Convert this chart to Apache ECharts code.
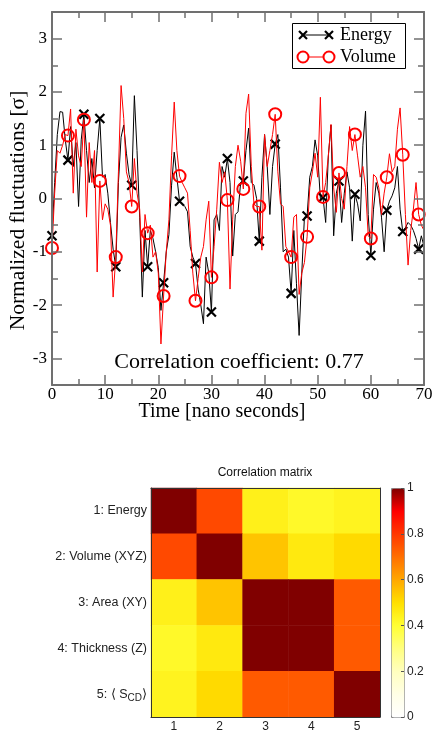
<!DOCTYPE html>
<html>
<head>
<meta charset="utf-8">
<script src="https://cdn.jsdelivr.net/npm/echarts@6/dist/echarts.min.js"></script>
<style>
html, body { margin: 0; padding: 0; background: #fff; }
#chart { width: 435px; height: 731px; }
</style>
</head>
<body>
<div id="chart"></div>
<script>
// sampling step of the time series (nano seconds)
var langkahWaktu = 0.5;

var energi = [
    -0.70, 0.30, 1.20, 1.63, 1.62, 1.10, 0.72, 1.35, 0.60, 1.05,
    -0.15, 1.10, 1.58, 0.90, 0.30, 0.75, 0.20, 0.90, 1.50, 0.40,
    0.45, 0.10, -0.45, -0.95, -1.28, 0.30, 1.15, 1.38, 0.85, 0.45,
    0.25, 1.93, 0.90, -0.35, -1.85, -0.60, -1.28, -0.60, -0.75, -1.00,
    -1.30, -2.10, -1.58, -1.00, -0.68, 0.25, 0.87, 0.40, -0.05, -0.10,
    -0.15, -0.25, -0.90, -1.10, -1.22, -1.70, -2.00, -2.35, -1.10, -1.40,
    -2.13, -0.40, -0.30, -0.60, 0.60, 0.40, 0.75, 0.30, -1.08, -0.30,
    -0.25, 0.30, 0.33, 0.90, 1.32, 0.30, 0.25, 0.00, -0.80, 0.40,
    1.20, 0.60, -0.30, 0.60, 1.02, 1.20, 0.20, -1.00, -0.95, -1.10,
    -1.78, -0.60, -1.60, -2.57, -1.40, -0.35, -0.33, 0.40, 0.60, 1.10,
    0.80, 0.00, 0.02, -0.45, 0.80, 1.38, -0.70, 0.10, 0.33, -0.45,
    0.10, 0.50, 0.20, -0.80, 0.08, -0.10, -0.42, 1.00, 1.64, -0.30,
    -1.07, -0.20, 0.30, 0.10, -0.35, -1.00, -0.22, -0.05, 0.05, 0.20,
    0.60, -0.20, -0.62, -0.55, -0.45, -0.50, -0.60, -0.75, -0.95, -0.70,
    -0.90
];

var volume = [
    -0.93, 0.10, 0.90, 0.85, 1.00, 1.20, 1.18, 1.68, 0.10, 1.30,
    0.80, 0.60, 1.48, -0.35, 1.05, 0.30, 0.90, -1.38, 0.33, -0.40,
    -0.10, -0.20, -0.50, -1.85, -1.10, 0.50, 2.12, 1.50, 0.50, 0.30,
    -0.15, 0.75, 0.10, -0.20, -1.38, -0.30, -0.65, -0.50, -1.10, -1.00,
    -1.40, -2.73, -1.83, -1.00, -0.40, 0.80, 1.81, 0.90, 0.42, 0.30,
    0.20, 0.10, -0.60, -1.40, -1.92, -1.50, -1.10, -0.90, -0.40, -0.05,
    -1.48, -0.90, -0.20, 0.68, 0.30, 0.50, -0.03, -1.70, -0.40, 0.60,
    1.00, 0.70, 0.18, 1.60, 1.96, 0.60, -0.10, -0.15, -0.15, -0.97,
    1.20, 0.60, 0.90, 1.20, 1.58, 0.50, -0.10, -0.15, -0.90, -1.00,
    -1.10, -0.35, -0.30, -1.80, -1.40, -1.20, -0.72, 0.20, 0.50, 0.85,
    0.40, 1.90, 0.03, 0.30, 0.80, 1.39, 0.20, -0.26, 0.48, 0.00,
    -0.20, 0.60, 1.35, 0.90, 1.20, 0.80, 0.40, 0.60, 0.20, -0.70,
    -0.75, 0.45, 0.40, 0.20, -0.30, 0.10, 0.40, 0.84, 0.50, 0.60,
    1.30, 1.70, 0.82, -0.30, -1.25, -0.60, -0.20, 0.30, -0.30, -0.50,
    -0.60
];

var labelMatriksX = ['1', '2', '3', '4', '5'];
var labelMatriksY = ['1: Energy', '2: Volume (XYZ)', '3: Area (XY)', '4: Thickness (Z)', '5: \u27E8 S{sub|CD}\u27E9'];
var matriksKorelasi = [
    [1.00, 0.77, 0.45, 0.42, 0.44],
    [0.77, 1.00, 0.55, 0.47, 0.51],
    [0.45, 0.55, 1.00, 1.00, 0.74],
    [0.42, 0.47, 1.00, 1.00, 0.74],
    [0.44, 0.51, 0.74, 0.74, 1.00]
];
var labelSkala = ['0', '0.2', '0.4', '0.6', '0.8', '1'];
var warnaSkala = ['#ffffff', '#ffffe6', '#ffffbf', '#ffff80', '#ffff33', '#ffe000',
    '#ffa800', '#ff7000', '#ff3800', '#ff0000', '#800000'];

function renderGrafik() {
    var chartDom = document.getElementById('chart');
    var myChart = echarts.init(chartDom, null, { renderer: 'canvas' });

    var dataEnergi = energi.map(function(v, i) { return [i * langkahWaktu, v]; });
    var dataVolume = volume.map(function(v, i) { return [i * langkahWaktu, v]; });
    var dataMatriks = [];
    matriksKorelasi.forEach(function(baris, y) {
        baris.forEach(function(v, x) { dataMatriks.push([x, y, v]); });
    });

    // marker every 3 ns
    function simbolTiap(nama) {
        return function(val, params) {
            return params.dataIndex % 6 === 0 ? nama : 'none';
        };
    }

    var serif = 'Liberation Serif';
    var sans = 'Liberation Sans';
    var abu = '#707070';

    var sumbuXAtas = {
        gridIndex: 0, type: 'value', min: 0, max: 70, interval: 10,
        axisLine: { onZero: false, lineStyle: { color: abu, width: 2 } },
        axisTick: { inside: true, length: 10, lineStyle: { color: abu, width: 1.5 } },
        minorTick: { show: true, splitNumber: 2, length: 6, lineStyle: { color: abu, width: 1.5 } },
        splitLine: { show: false },
        z: 5
    };
    var garisY = { show: true, onZero: false, lineStyle: { color: abu, width: 2 } };
    var tanpaGaris = { show: false, onZero: false };

    var option = {
        animation: false,
        grid: [
            { left: 52, top: 12, width: 372, height: 373, outerBoundsMode: 'none' },
            { left: 151, top: 488, width: 229, height: 229, outerBoundsMode: 'none' },
            { left: 391, top: 488, width: 13, height: 229, outerBoundsMode: 'none' }
        ],
        xAxis: [
            Object.assign({}, sumbuXAtas, {
                position: 'bottom',
                name: 'Time [nano seconds]',
                nameLocation: 'middle',
                nameGap: 17,
                nameMoveOverlap: false,
                nameTextStyle: { fontFamily: serif, fontSize: 20, color: '#000', padding: [0, 32, 0, 0] },
                axisLabel: { fontFamily: serif, fontSize: 17, color: '#000', margin: 1 }
            }),
            Object.assign({}, sumbuXAtas, { position: 'top', axisLabel: { show: false } }),
            {
                gridIndex: 1, type: 'category', data: labelMatriksX, position: 'bottom',
                axisLine: { onZero: false, lineStyle: { color: '#333', width: 1 } },
                axisTick: { inside: true, alignWithLabel: true, length: 4, lineStyle: { color: '#333' } },
                axisLabel: { fontFamily: sans, fontSize: 12, color: '#222', margin: 4 },
                z: 5
            },
            {
                gridIndex: 1, type: 'category', data: labelMatriksX, position: 'top',
                axisLine: { onZero: false, lineStyle: { color: '#333', width: 1 } },
                axisTick: { inside: true, alignWithLabel: true, length: 4, lineStyle: { color: '#333' } },
                axisLabel: { show: false },
                z: 5
            },
            { gridIndex: 2, type: 'value', show: false, min: 0, max: 1 }
        ],
        yAxis: [
            {
                gridIndex: 0, type: 'value', min: -3.5, max: 3.5, interval: 0.5, position: 'left',
                name: 'Normalized fluctuations [\u03C3]',
                nameLocation: 'middle',
                nameGap: 23,
                nameMoveOverlap: false,
                nameTextStyle: { fontFamily: serif, fontSize: 21.5, color: '#000', padding: [0, 24, 0, 0] },
                axisLine: garisY,
                axisTick: { inside: true, length: 6, lineStyle: { color: abu, width: 1.5 } },
                axisLabel: {
                    fontFamily: serif, fontSize: 17, color: '#000', margin: 5,
                    formatter: function(v) {
                        return Math.abs(v - Math.round(v)) < 1e-6 ? String(Math.round(v)) : '';
                    }
                },
                splitLine: { show: false },
                z: 5
            },
            {
                gridIndex: 0, type: 'value', min: -3.5, max: 3.5, splitNumber: 7, position: 'left',
                axisLine: tanpaGaris,
                axisTick: { inside: true, length: 10, lineStyle: { color: abu, width: 1.5 } },
                axisLabel: { show: false },
                splitLine: { show: false },
                z: 5
            },
            {
                gridIndex: 0, type: 'value', min: -3.5, max: 3.5, interval: 0.5, position: 'right',
                axisLine: garisY,
                axisTick: { inside: true, length: 6, lineStyle: { color: abu, width: 1.5 } },
                axisLabel: { show: false },
                splitLine: { show: false },
                z: 5
            },
            {
                gridIndex: 0, type: 'value', min: -3.5, max: 3.5, splitNumber: 7, position: 'right',
                axisLine: tanpaGaris,
                axisTick: { inside: true, length: 10, lineStyle: { color: abu, width: 1.5 } },
                axisLabel: { show: false },
                splitLine: { show: false },
                z: 5
            },
            {
                gridIndex: 1, type: 'category', data: labelMatriksY, inverse: true, position: 'left',
                axisLine: { onZero: false, lineStyle: { color: '#333', width: 1 } },
                axisTick: { inside: true, alignWithLabel: true, length: 4, lineStyle: { color: '#333' } },
                axisLabel: {
                    fontFamily: sans, fontSize: 12.5, color: '#222', margin: 4,
                    rich: {
                        sub: { fontFamily: sans, fontSize: 10, color: '#222', padding: [9, 0, 0, 0] }
                    }
                },
                z: 5
            },
            {
                gridIndex: 1, type: 'category', data: labelMatriksY, inverse: true, position: 'right',
                axisLine: { onZero: false, lineStyle: { color: '#333', width: 1 } },
                axisTick: { inside: true, alignWithLabel: true, length: 4, lineStyle: { color: '#333' } },
                axisLabel: { show: false },
                z: 5
            },
            {
                gridIndex: 2, type: 'value', min: 0, max: 1, interval: 0.2, position: 'right',
                axisLine: tanpaGaris,
                axisTick: { inside: true, length: 3, lineStyle: { color: '#555' } },
                axisLabel: {
                    fontFamily: sans, fontSize: 12, color: '#222', margin: 3,
                    formatter: function(v) { return labelSkala[Math.round(v * 5)]; }
                },
                splitLine: { show: false },
                z: 6
            }
        ],
        visualMap: {
            type: 'continuous', min: 0, max: 1, seriesIndex: 2,
            calculable: false, hoverLink: false,
            left: 391, top: 488, itemWidth: 13, itemHeight: 229,
            padding: 0, borderColor: '#888', borderWidth: 1,
            inRange: { color: warnaSkala }
        },
        series: [
            {
                name: 'Energy', type: 'line', xAxisIndex: 0, yAxisIndex: 0,
                data: dataEnergi,
                showAllSymbol: true,
                symbol: simbolTiap('path://M0,0L10,10M10,0L0,10'),
                symbolSize: 9,
                itemStyle: { color: '#000', borderColor: '#000', borderWidth: 2.2 },
                lineStyle: { color: '#000', width: 1 },
                emphasis: { disabled: true },
                z: 2
            },
            {
                name: 'Volume', type: 'line', xAxisIndex: 0, yAxisIndex: 0,
                data: dataVolume,
                showAllSymbol: true,
                symbol: simbolTiap('circle'),
                symbolSize: 12,
                itemStyle: { color: 'rgba(0,0,0,0)', borderColor: '#ff0000', borderWidth: 2 },
                lineStyle: { color: '#ff0000', width: 1 },
                emphasis: { disabled: true },
                z: 3
            },
            {
                name: 'Correlation', type: 'heatmap', xAxisIndex: 2, yAxisIndex: 4,
                data: dataMatriks,
                emphasis: { disabled: true }
            }
        ],
        graphic: [
            {
                type: 'text', x: 239, y: 362, z: 10,
                style: { text: 'Correlation coefficient: 0.77', font: '22px "Liberation Serif"', fill: '#000', align: 'center', verticalAlign: 'middle' }
            },
            {
                type: 'text', x: 265, y: 473, z: 10,
                style: { text: 'Correlation matrix', font: '12px "Liberation Sans"', fill: '#111', align: 'center', verticalAlign: 'middle' }
            },
            // legend box
            {
                type: 'group', z: 20,
                children: [
                    { type: 'rect', shape: { x: 292.5, y: 23.5, width: 113, height: 45 }, style: { fill: '#fff', stroke: '#000', lineWidth: 1 } },
                    { type: 'line', shape: { x1: 303, y1: 35, x2: 329, y2: 35 }, style: { stroke: '#000', lineWidth: 1 } },
                    { type: 'polyline', shape: { points: [[299, 31], [307, 39]] }, style: { stroke: '#000', lineWidth: 2.2 } },
                    { type: 'polyline', shape: { points: [[307, 31], [299, 39]] }, style: { stroke: '#000', lineWidth: 2.2 } },
                    { type: 'polyline', shape: { points: [[325, 31], [333, 39]] }, style: { stroke: '#000', lineWidth: 2.2 } },
                    { type: 'polyline', shape: { points: [[333, 31], [325, 39]] }, style: { stroke: '#000', lineWidth: 2.2 } },
                    { type: 'text', x: 340, y: 35, style: { text: 'Energy', font: '18px "Liberation Serif"', fill: '#000', verticalAlign: 'middle' } },
                    { type: 'line', shape: { x1: 303, y1: 57, x2: 329, y2: 57 }, style: { stroke: '#ff0000', lineWidth: 1 } },
                    { type: 'circle', shape: { cx: 303, cy: 57, r: 5.5 }, style: { fill: '#fff', stroke: '#ff0000', lineWidth: 2 } },
                    { type: 'circle', shape: { cx: 329, cy: 57, r: 5.5 }, style: { fill: '#fff', stroke: '#ff0000', lineWidth: 2 } },
                    { type: 'text', x: 340, y: 57, style: { text: 'Volume', font: '18px "Liberation Serif"', fill: '#000', verticalAlign: 'middle' } }
                ]
            }
        ]
    };
    myChart.setOption(option);
}

document.addEventListener('DOMContentLoaded', function() {
    renderGrafik();
});
</script>
</body>
</html>
